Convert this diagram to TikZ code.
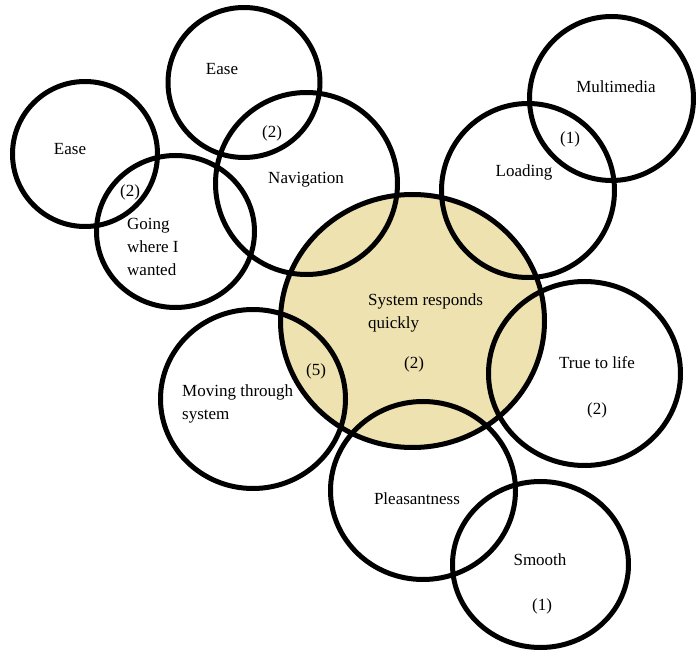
\documentclass[tikz,border=0pt]{standalone}
\usepackage{fontspec}
\setmainfont{Liberation Serif}
\usetikzlibrary{shapes.geometric}
\definecolor{sand}{RGB}{238,226,176}
\tikzset{
  ring/.style={ellipse, draw=black, line width=5pt, inner sep=0pt},
  lbl/.style={inner sep=0pt, font=\fontsize{17}{23}\selectfont},
  lbll/.style={lbl, anchor=west, align=left},
}
\begin{document}
\begin{tikzpicture}[x=1pt, y=-1pt]
  \useasboundingbox (0,0) rectangle (697,652);
  % core theme, filled first so every outline stays on top
  \node[ring, draw=none, fill=sand, minimum width=264pt, minimum height=253pt] (sysfill) at (412.5,321) {};
  % outlines
  \node[ring, minimum width=145pt, minimum height=145pt] (easeL) at (85,154) {};
  \node[ring, minimum width=152pt, minimum height=150pt] (easeT) at (244,82.5) {};
  \node[ring, minimum width=182pt, minimum height=182pt] (nav) at (306.5,183.5) {};
  \node[ring, minimum width=158pt, minimum height=152pt] (going) at (175.5,231.5) {};
  \node[ring, minimum width=164pt, minimum height=164pt] (multi) at (611.5,98.5) {};
  \node[ring, minimum width=173pt, minimum height=174pt] (load) at (528,190.5) {};
  \node[ring, minimum width=264pt, minimum height=253pt] (sys) at (412.5,321) {};
  \node[ring, minimum width=192pt, minimum height=184pt] (life) at (584.5,373.5) {};
  \node[ring, minimum width=185pt, minimum height=179pt] (move) at (253,399) {};
  \node[ring, minimum width=185pt, minimum height=178pt] (pleas) at (423,490.5) {};
  \node[ring, minimum width=176pt, minimum height=166pt] (smooth) at (540.5,564.5) {};
  % labels
  \node[lbl] (tEaseL) at (70,149) {Ease};
  \node[lbl] (tEaseT) at (222,69) {Ease};
  \node[lbl] (nEaseT) at (272,133) {(2)};
  \node[lbl] (tNav) at (306,180) {Navigation};
  \node[lbl] (nEaseL) at (130,192) {(2)};
  \node[lbll] (tGoing) at (127,247) {Going\\where I\\wanted};
  \node[lbl] (tMulti) at (616,87) {Multimedia};
  \node[lbl] (nMulti) at (570,139) {(1)};
  \node[lbl] (tLoad) at (524,172) {Loading};
  \node[lbll] (tSys) at (368,313) {System responds\\quickly};
  \node[lbl] (nSys) at (414,364) {(2)};
  \node[lbl] (nMove) at (316,371) {(5)};
  \node[lbll] (tMove) at (182,404) {Moving through\\system};
  \node[lbl] (tPleas) at (417,499) {Pleasantness};
  \node[lbl] (tLife) at (597,363) {True to life};
  \node[lbl] (nLife) at (597,410) {(2)};
  \node[lbl] (tSmooth) at (540,560) {Smooth};
  \node[lbl] (nSmooth) at (542,606) {(1)};
\end{tikzpicture}
\end{document}
